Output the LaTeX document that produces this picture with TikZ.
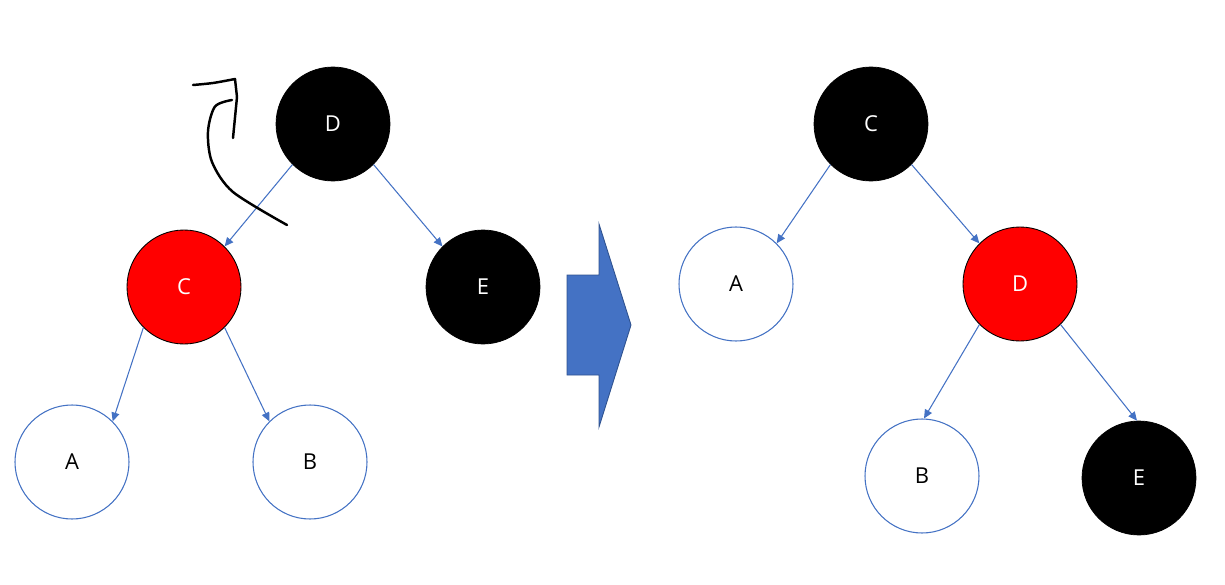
\documentclass[tikz,border=0pt]{standalone}
\usepackage{fontspec}
\setmainfont{Open Sans}
\usetikzlibrary{arrows.meta}
\definecolor{edgeblue}{RGB}{68,114,196}
\definecolor{darkblue}{RGB}{47,82,143}
\definecolor{rbred}{RGB}{255,0,0}

\begin{document}
\begin{tikzpicture}[
  rb/.style={circle, minimum size=2.28cm, inner sep=0pt, font=\fontsize{12.5}{14}\selectfont},
  blk/.style={rb, draw=black, fill=black, text=white},
  red/.style={rb, draw=black, line width=0.5pt, fill=rbred, text=white},
  leaf/.style={rb, draw=edgeblue, line width=0.6pt, fill=white, text=black},
  edge/.style={draw=edgeblue, line width=0.6pt, -{Triangle[length=5pt,width=4.5pt]}}]
  \useasboundingbox (0,0) rectangle (24.5,11.68);
  % before rotation
  \node[blk] (d) at (6.66,9.20) {D};
  \node[red] (c) at (3.68,5.94) {C};
  \node[blk] (e) at (9.66,5.94) {E};
  \node[leaf] (a) at (1.44,2.44) {A};
  \node[leaf] (b) at (6.20,2.44) {B};
  \draw[edge] (d.225) -- (c.45);
  \draw[edge] (d.315) -- (e.135);
  \draw[edge] (c.225) -- (a.45);
  \draw[edge] (c.315) -- (b.135);
  % hand-drawn rotation mark
  \draw[line width=1.4pt, line cap=round, line join=round]
    plot[smooth] coordinates {(3.86,9.98) (4.26,10.02) (4.70,10.10)}
    -- (4.74,9.74) -- (4.66,8.92);
  \draw[line width=1.4pt, line cap=round]
    plot[smooth] coordinates {(4.64,9.68) (4.30,9.55) (4.16,9.05)
      (4.24,8.44) (4.66,7.84) (5.74,7.18)};
  % block arrow
  \fill[edgeblue, draw=darkblue, line width=0.5pt] (11.34,6.18) -- (11.98,6.18) -- (11.98,7.20)
    -- (12.62,5.18) -- (11.98,3.14) -- (11.98,4.18) -- (11.34,4.18) -- cycle;
  % after rotation
  \node[blk] (c2) at (17.42,9.20) {C};
  \node[leaf] (a2) at (14.72,6.00) {A};
  \node[red] (d2) at (20.40,6.00) {D};
  \node[leaf] (b2) at (18.44,2.16) {B};
  \node[blk] (e2) at (22.78,2.12) {E};
  \draw[edge] (c2.225) -- (a2.45);
  \draw[edge] (c2.315) -- (d2.135);
  \draw[edge] (d2.225) -- (b2.88);
  \draw[edge] (d2.315) -- (e2.92);
\end{tikzpicture}
\end{document}
